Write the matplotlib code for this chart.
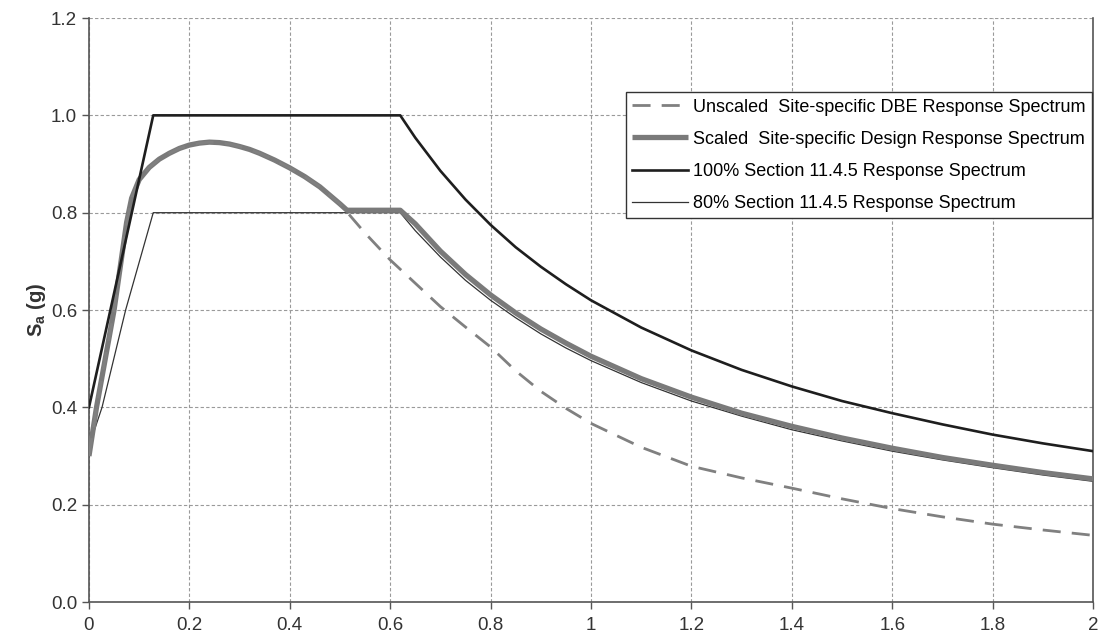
import matplotlib
matplotlib.use("Agg")
import matplotlib.pyplot as plt

plt.rcParams['font.family'] = ['Liberation Sans', 'DejaVu Sans']

# periods (s) and spectral accelerations (g)
t_unscaled = [0, 0.015, 0.05, 0.075, 0.085, 0.1, 0.12, 0.14, 0.16, 0.18, 0.2, 0.22, 0.24,
              0.26, 0.28, 0.3, 0.32, 0.34, 0.37, 0.4, 0.43, 0.46, 0.5, 0.55, 0.6, 0.65, 0.7,
              0.75, 0.8, 0.85, 0.9, 0.95, 1.0, 1.1, 1.2, 1.3, 1.4, 1.5, 1.6, 1.7, 1.8, 1.9, 2.0]
sa_unscaled = [0.30, 0.40, 0.60, 0.78, 0.83, 0.868, 0.893, 0.91, 0.922, 0.932, 0.939, 0.943,
               0.945, 0.944, 0.941, 0.936, 0.93, 0.922, 0.908, 0.892, 0.874, 0.853, 0.818,
               0.758, 0.703, 0.655, 0.607, 0.565, 0.524, 0.475, 0.433, 0.398, 0.367, 0.318,
               0.279, 0.255, 0.234, 0.212, 0.192, 0.175, 0.16, 0.148, 0.137]

t_scaled = [0, 0.015, 0.05, 0.075, 0.085, 0.1, 0.12, 0.14, 0.16, 0.18, 0.2, 0.22, 0.24,
            0.26, 0.28, 0.3, 0.32, 0.34, 0.37, 0.4, 0.43, 0.46, 0.5, 0.514, 0.62, 0.65, 0.7,
            0.75, 0.8, 0.85, 0.9, 0.95, 1.0, 1.1, 1.2, 1.3, 1.4, 1.5, 1.6, 1.7, 1.8, 1.9, 2.0]
sa_scaled = [0.30, 0.40, 0.60, 0.78, 0.83, 0.868, 0.893, 0.91, 0.922, 0.932, 0.939, 0.943,
             0.945, 0.944, 0.941, 0.936, 0.93, 0.922, 0.908, 0.892, 0.874, 0.853, 0.818,
             0.805, 0.805, 0.777, 0.721, 0.673, 0.631, 0.594, 0.561, 0.532, 0.505, 0.459,
             0.421, 0.388, 0.361, 0.337, 0.316, 0.297, 0.281, 0.266, 0.253]

t_code = [0, 0.128, 0.62, 0.65, 0.7, 0.75, 0.8, 0.85, 0.9, 0.95, 1.0, 1.1, 1.2,
          1.3, 1.4, 1.5, 1.6, 1.7, 1.8, 1.9, 2.0]
sa_code100 = [0.40, 1.0, 1.0, 0.954, 0.886, 0.827, 0.775, 0.729, 0.689, 0.653, 0.62, 0.564,
              0.517, 0.477, 0.443, 0.413, 0.388, 0.365, 0.344, 0.326, 0.31]

t_code80 = [0, 0.026, 0.073, 0.128, 0.62, 0.65, 0.7, 0.75, 0.8, 0.85, 0.9, 0.95, 1.0, 1.1,
            1.2, 1.3, 1.4, 1.5, 1.6, 1.7, 1.8, 1.9, 2.0]
sa_code80 = [0.32, 0.40, 0.60, 0.80, 0.80, 0.763, 0.709, 0.661, 0.62, 0.584, 0.551, 0.522,
             0.496, 0.451, 0.413, 0.382, 0.354, 0.331, 0.31, 0.292, 0.276, 0.261, 0.248]

labels = ["Unscaled  Site-specific DBE Response Spectrum",
          "Scaled  Site-specific Design Response Spectrum",
          "100% Section 11.4.5 Response Spectrum",
          "80% Section 11.4.5 Response Spectrum"]

fig = plt.figure(figsize=(11.08, 6.44), dpi=100)
ax = fig.add_axes([0.0803, 0.0652, 0.9062, 0.9068])

l2, = ax.plot(t_scaled, sa_scaled, color='#7a7a7a', lw=3.8, solid_capstyle='butt',
              solid_joinstyle='round', zorder=3)
l1, = ax.plot(t_unscaled, sa_unscaled, color='#808080', lw=2.0, ls=(0, (6.5, 4)), zorder=4)
l3, = ax.plot(t_code, sa_code100, color='#1e1e1e', lw=1.9, zorder=5)
l4, = ax.plot(t_code80, sa_code80, color='#333333', lw=0.9, zorder=2)

ax.set_xlim(0, 2)
ax.set_ylim(0, 1.2)
ax.set_xticks([0, 0.2, 0.4, 0.6, 0.8, 1, 1.2, 1.4, 1.6, 1.8, 2])
ax.set_xticklabels(['0', '0.2', '0.4', '0.6', '0.8', '1', '1.2', '1.4', '1.6', '1.8', '2'])
ax.set_yticks([0, 0.2, 0.4, 0.6, 0.8, 1.0, 1.2])
ax.set_yticklabels(['0.0', '0.2', '0.4', '0.6', '0.8', '1.0', '1.2'])
ax.tick_params(labelsize=13.5, length=5, width=1, color='#555555', labelcolor='#333333')
ax.tick_params(axis='x', pad=6)

ax.grid(True, ls=(0, (3, 2)), color='#9a9a9a', lw=0.8)
ax.set_axisbelow(True)
for side in ['left', 'bottom', 'right']:
    ax.spines[side].set_color('#555555')
    ax.spines[side].set_linewidth(1.2)
ax.spines['top'].set_visible(False)

ax.set_ylabel('S$_\\mathregular{a}$ (g)', fontsize=14.5, fontweight='bold', color='#333333', labelpad=2)

leg = ax.legend([l1, l2, l3, l4], labels, loc='upper right', bbox_to_anchor=(0.999, 0.873),
                borderaxespad=0, fontsize=13, handlelength=3.1, handletextpad=0.3,
                labelspacing=0.84, frameon=True, fancybox=False, borderpad=0.35)
leg.get_frame().set_edgecolor('#333333')
leg.get_frame().set_linewidth(1.0)
leg.get_frame().set_alpha(1)

fig.savefig('out.png', dpi=100)
